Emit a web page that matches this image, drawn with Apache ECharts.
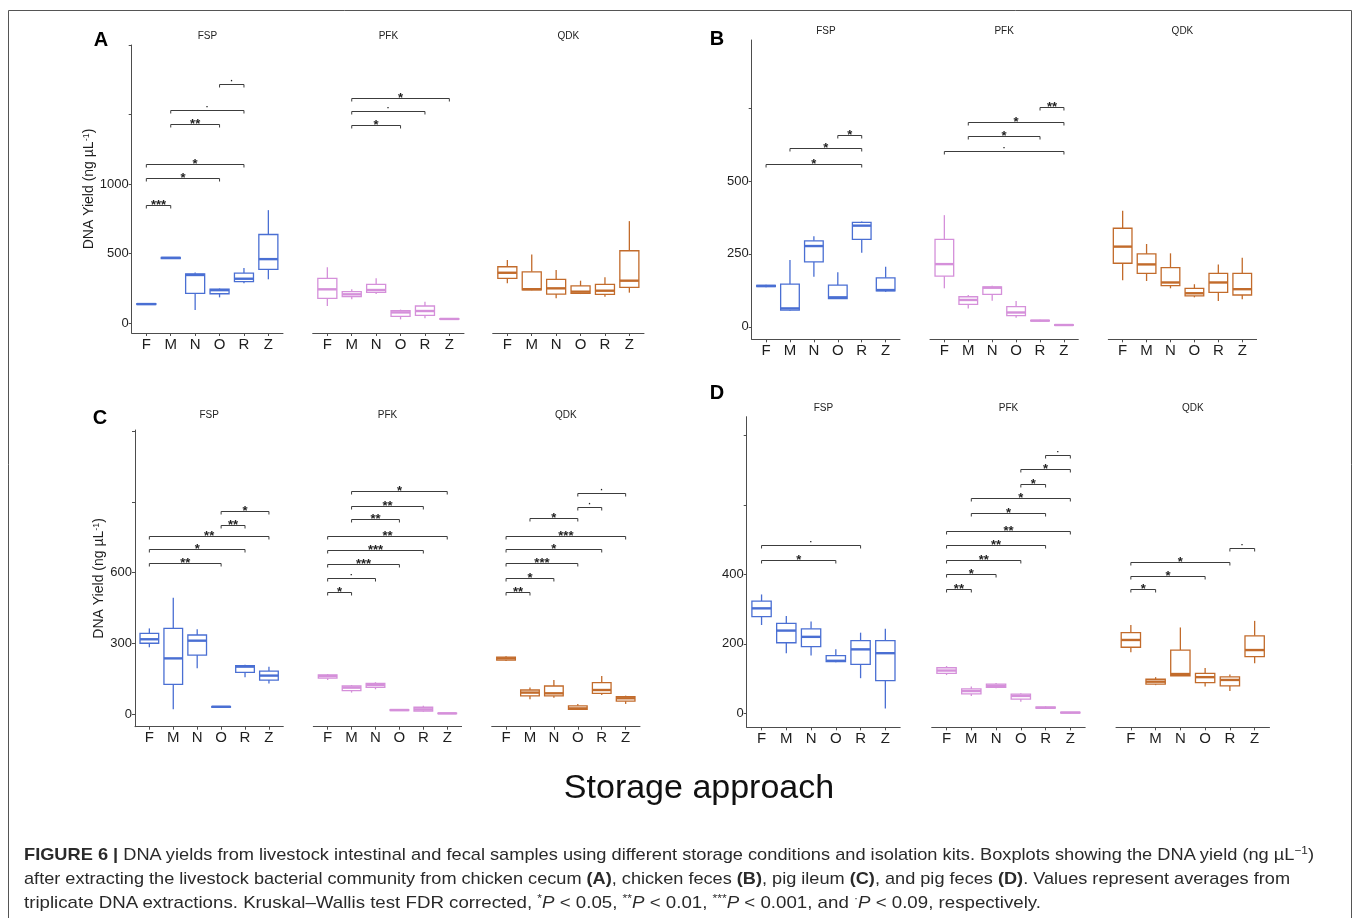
<!DOCTYPE html>
<html>
<head>
<meta charset="utf-8">
<title>Figure 6 - DNA yields</title>
<script src="https://cdn.jsdelivr.net/npm/echarts@6.0.0/dist/echarts.min.js"></script>
<style>
  html, body { margin: 0; padding: 0; background: #fff; }
  #chart { width: 1358px; height: 918px; }
  #caption { position: absolute; left: 0; top: 0; }
  .cl {
    position: absolute; left: 24px; white-space: nowrap;
    font-family: "Liberation Sans Narrow", "Liberation Sans", Arial, sans-serif;
    font-size: 17px; line-height: 20px; color: #2a2a2a;
    transform-origin: 0 50%;
  }
  .cl sup { font-size: 11px; line-height: 0; vertical-align: 6px; }
</style>
</head>
<body>
<div id="chart"></div>
<div id="caption">
  <div class="cl" data-w="1290" style="top:845px"><b>FIGURE 6 |</b> DNA yields from livestock intestinal and fecal samples using different storage conditions and isolation kits. Boxplots showing the DNA yield (ng µL<sup>−1</sup>)</div>
  <div class="cl" data-w="1266" style="top:869px">after extracting the livestock bacterial community from chicken cecum <b>(A)</b>, chicken feces <b>(B)</b>, pig ileum <b>(C)</b>, and pig feces <b>(D)</b>. Values represent averages from</div>
  <div class="cl" data-w="1017" style="top:893px">triplicate DNA extractions. Kruskal–Wallis test FDR corrected, <sup>*</sup><i>P</i> &lt; 0.05, <sup>**</sup><i>P</i> &lt; 0.01, <sup>***</sup><i>P</i> &lt; 0.001, and <sup>·</sup><i>P</i> &lt; 0.09, respectively.</div>
</div>
<script>
// storage approaches (x categories) and isolation kits (facets)
const categories = ['F', 'M', 'N', 'O', 'R', 'Z'];
const kits = ['FSP', 'PFK', 'QDK'];

// box stats per storage approach: [min, q1, median, q3, max]
// A: chicken cecum
const aFSP = [[132,135,138,141,143],[462,465,470,473,476],[95,215,347,355,365],[186,212,238,245,250],[287,299,320,360,398],[316,387,461,638,813]];
const aPFK = [[124,179,244,323,402],[172,191,208,227,244],[210,222,239,280,323],[28,50,78,90,98],[36,57,88,124,155],[26,29,31,33,35]];
const aQDK = [[287,323,363,406,454],[238,240,245,370,495],[179,210,251,316,382],[210,215,227,268,306],[191,208,234,280,330],[220,258,306,521,734]];
// B: chicken feces
const bFSP = [[136,138,140,142,144],[54,57,63,146,229],[172,223,277,295,311],[95,97,101,143,187],[254,300,347,358,361],[120,123,126,168,206]];
const bPFK = [[132,174,215,300,383],[63,77,92,103,109],[89,111,134,137,141],[31,38,49,69,88],[18,20,21,22,24],[4,5,6,7,8]];
const bQDK = [[160,218,275,338,398],[157,183,214,250,284],[132,141,152,203,252],[101,106,115,132,146],[88,118,152,183,214],[94,109,129,183,237]];
// C: pig ileum
const cFSP = [[284,301,318,343,364],[21,127,237,364,494],[195,251,312,336,360],[28,30,32,33,35],[157,178,202,206,210],[131,145,164,183,202]];
const cPFK = [[145,153,162,167,171],[92,100,113,120,124],[106,114,124,131,136],[14,16,18,20,22],[11,14,21,30,36],[2,3,4,5,6]];
const cQDK = [[226,230,237,242,246],[64,78,92,103,114],[70,78,89,120,145],[18,21,25,36,44],[82,89,103,134,162],[44,56,68,75,79]];
// D: pig feces
const dFSP = [[254,278,302,323,342],[173,203,238,259,280],[166,192,220,243,264],[147,149,151,166,184],[101,141,184,209,232],[14,94,173,209,243]];
const dPFK = [[110,115,123,131,136],[50,56,64,70,77],[72,75,79,84,87],[33,41,50,55,58],[13,15,16,18,20],[0,1,2,3,4]];
const dQDK = [[176,190,211,232,254],[81,84,91,98,104],[108,108,113,182,247],[77,88,104,115,130],[64,79,96,105,112],[144,163,182,223,266]];

// significance brackets: [from category, to category, height, label]
const sigAFSP = [[1,2,849,'***'],[1,4,1047,'*'],[1,5,1143,'*'],[2,4,1430,'**'],[2,5,1530,'·'],[4,5,1717,'·']];
const sigAPFK = [[2,4,1422,'*'],[2,5,1525,'·'],[2,6,1618,'*']];
const sigAQDK = [];
const sigBFSP = [[1,5,558,'*'],[2,5,612,'*'],[4,5,658,'*']];
const sigBPFK = [[1,6,604,'·'],[2,5,656,'*'],[2,6,704,'*'],[5,6,753,'**']];
const sigBQDK = [];
const sigCFSP = [[1,4,640,'**'],[1,5,699,'*'],[1,6,757,'**'],[4,5,802,'**'],[4,6,863,'*']];
const sigCPFK = [[1,2,519,'*'],[1,3,576,'·'],[1,4,637,'***'],[1,5,696,'***'],[1,6,757,'**'],[2,4,826,'**'],[2,5,883,'**'],[2,6,947,'*']];
const sigCQDK = [[1,2,519,'**'],[1,3,579,'*'],[1,4,640,'***'],[1,5,699,'*'],[1,6,757,'***'],[2,4,833,'*'],[4,5,880,'·'],[4,6,939,'·']];
const sigDFSP = [[1,4,441,'*'],[1,5,484,'·']];
const sigDPFK = [[1,2,357,'**'],[1,3,400,'*'],[1,4,441,'**'],[1,5,484,'**'],[1,6,525,'**'],[2,5,576,'*'],[2,6,619,'*'],[4,5,659,'*'],[4,6,702,'*'],[5,6,743,'·']];
const sigDQDK = [[1,2,357,'*'],[1,4,396,'*'],[1,5,436,'*'],[5,6,477,'·']];

// y axis ticks and labelled ticks
const yTicksA = [0, 500, 1000, 1500, 2000];
const yLabelsA = [0, 500, 1000];
const yTicksB = [0, 250, 500, 750];
const yLabelsB = [0, 250, 500];
const yTicksC = [0, 300, 600, 900, 1200];
const yLabelsC = [0, 300, 600];
const yTicksD = [0, 200, 400, 600, 800];
const yLabelsD = [0, 200, 400];

const kitColors = ['#4a6fd3', '#d590da', '#c26b2b'];
const FONT = '"Liberation Sans", Arial, sans-serif';
const catPos = [1, 2, 3, 4, 5, 6];

// layout of the four panels (pixels)
const panels = [
  { letter: 'A', letterPos: [101, 40], top: 45, bottom: 333, lefts: [131.7, 312.7, 492.7], width: 151.3, titleY: 36,
    yMin: -70, yMax: 2000, ticks: yTicksA, labels: yLabelsA, yName: true,
    boxes: [aFSP, aPFK, aQDK], sigs: [sigAFSP, sigAPFK, sigAQDK] },
  { letter: 'B', letterPos: [717, 39], top: 40, bottom: 339.3, lefts: [751.7, 930, 1108.3], width: 148.3, titleY: 31,
    yMin: -43, yMax: 984, ticks: yTicksB, labels: yLabelsB, yName: false,
    boxes: [bFSP, bPFK, bQDK], sigs: [sigBFSP, sigBPFK, sigBQDK] },
  { letter: 'C', letterPos: [100, 418], top: 430, bottom: 726.7, lefts: [135, 313.3, 491.7], width: 148.3, titleY: 415,
    yMin: -52.5, yMax: 1204.7, ticks: yTicksC, labels: yLabelsC, yName: true,
    boxes: [cFSP, cPFK, cQDK], sigs: [sigCFSP, sigCPFK, sigCQDK] },
  { letter: 'D', letterPos: [717, 393], top: 416.7, bottom: 727.3, lefts: [746.7, 931.7, 1116], width: 153.5, titleY: 408,
    yMin: -40.3, yMax: 853.5, ticks: yTicksD, labels: yLabelsD, yName: false,
    boxes: [dFSP, dPFK, dQDK], sigs: [sigDFSP, sigDPFK, sigDQDK] }
];

function boxRenderer(color) {
  return function (params, api) {
    const x = api.value(0);
    const p = [1, 2, 3, 4, 5].map(i => api.coord([x, api.value(i)]));
    const half = api.size([1, 0])[0] * 0.39;
    const cx = p[0][0];
    const lw = 1.3;
    return {
      type: 'group',
      children: [
        { type: 'line', shape: { x1: cx, y1: p[3][1], x2: cx, y2: p[4][1] }, style: { stroke: color, lineWidth: lw } },
        { type: 'line', shape: { x1: cx, y1: p[1][1], x2: cx, y2: p[0][1] }, style: { stroke: color, lineWidth: lw } },
        { type: 'rect', shape: { x: cx - half, y: p[3][1], width: 2 * half, height: p[1][1] - p[3][1] },
          style: { fill: '#fff', stroke: color, lineWidth: lw } },
        { type: 'line', shape: { x1: cx - half, y1: p[2][1], x2: cx + half, y2: p[2][1] },
          style: { stroke: color, lineWidth: 2.4 } }
      ]
    };
  };
}

function bracketRenderer(list) {
  return function (params, api) {
    const a = api.coord([api.value(0), api.value(2)]);
    const b = api.coord([api.value(1), api.value(2)]);
    const lab = list[params.dataIndex][3];
    const y = Math.round(a[1]) + 0.5;
    const dot = lab === '·';
    return {
      type: 'group',
      children: [
        { type: 'polyline', shape: { points: [[a[0], y + 3], [a[0], y], [b[0], y], [b[0], y + 3]] },
          style: { stroke: '#3c3c3c', fill: null, lineWidth: 1 } },
        { type: 'text', style: {
            text: lab, x: (a[0] + b[0]) / 2, y: dot ? y - 2.5 : y,
            align: 'center', verticalAlign: 'middle', textAlign: 'center', textVerticalAlign: 'middle',
            fontSize: dot ? 9 : 13, fontWeight: 'bold', fontFamily: FONT, fill: '#222' } }
      ]
    };
  };
}

const grid = [], xAxis = [], yAxis = [], series = [], graphic = [];

graphic.push({ type: 'rect', shape: { x: 8.5, y: 10.5, width: 1343, height: 930 },
  style: { fill: null, stroke: '#555', lineWidth: 1 }, silent: true });

panels.forEach(pn => {
  graphic.push({ type: 'text', x: pn.letterPos[0], y: pn.letterPos[1],
    style: { text: pn.letter, fontSize: 20, fontWeight: 'bold', fontFamily: FONT, fill: '#000',
      align: 'center', verticalAlign: 'middle', textAlign: 'center', textVerticalAlign: 'middle' } });
  kits.forEach((kit, k) => {
    const g = grid.length;
    grid.push({ left: pn.lefts[k], top: pn.top, width: pn.width, height: pn.bottom - pn.top, containLabel: false });
    graphic.push({ type: 'text', x: pn.lefts[k] + pn.width / 2, y: pn.titleY,
      style: { text: kit, fontSize: 10, fontFamily: FONT, fill: '#222',
        align: 'center', verticalAlign: 'middle', textAlign: 'center', textVerticalAlign: 'middle' } });
    xAxis.push({
      gridIndex: g, type: 'value', min: 0.4, max: 6.6,
      axisLine: { show: true, onZero: false, lineStyle: { color: '#4d4d4d', width: 1 } },
      axisTick: { show: true, customValues: catPos, length: 3, lineStyle: { color: '#4d4d4d' } },
      axisLabel: { show: true, customValues: catPos, formatter: v => categories[Math.round(v) - 1],
        fontSize: 15, color: '#1e1e1e', fontFamily: FONT, margin: 4 },
      splitLine: { show: false }
    });
    const ya = {
      gridIndex: g, type: 'value', min: pn.yMin, max: pn.yMax, show: k === 0,
      axisLine: { show: true, onZero: false, lineStyle: { color: '#4d4d4d', width: 1 } },
      axisTick: { show: true, customValues: pn.ticks, length: 3, lineStyle: { color: '#4d4d4d' } },
      axisLabel: { show: true, customValues: pn.labels, formatter: v => String(Math.round(v)),
        fontSize: 13, color: '#1e1e1e', fontFamily: FONT, margin: 3 },
      splitLine: { show: false }
    };
    if (k === 0 && pn.yName) {
      ya.name = '{a|DNA Yield (ng µL}{s|-1}{a|)}';
      ya.nameLocation = 'middle';
      ya.nameGap = 28;
      ya.nameTextStyle = { fontSize: 14, rich: {
        a: { fontSize: 14, color: '#1e1e1e', fontFamily: FONT },
        s: { fontSize: 9, color: '#1e1e1e', fontFamily: FONT, verticalAlign: 'top' } } };
    }
    yAxis.push(ya);
    series.push({
      type: 'custom', xAxisIndex: g, yAxisIndex: g,
      data: pn.boxes[k].map((s, i) => [i + 1].concat(s)),
      encode: { x: 0, y: [1, 2, 3, 4, 5] },
      renderItem: boxRenderer(kitColors[k])
    });
    if (pn.sigs[k].length) {
      series.push({
        type: 'custom', xAxisIndex: g, yAxisIndex: g,
        data: pn.sigs[k].map(s => [s[0], s[1], s[2]]),
        encode: { x: [0, 1], y: 2 },
        renderItem: bracketRenderer(pn.sigs[k])
      });
    }
  });
});

graphic.push({ type: 'text', x: 699, y: 789,
  style: { text: 'Storage approach', fontSize: 34, fontFamily: FONT, fill: '#111',
    align: 'center', verticalAlign: 'middle', textAlign: 'center', textVerticalAlign: 'middle' } });

const chart = echarts.init(document.getElementById('chart'), null, { renderer: 'canvas' });
chart.setOption({
  animation: false,
  backgroundColor: '#fff',
  grid: grid,
  xAxis: xAxis,
  yAxis: yAxis,
  series: series,
  graphic: graphic
});

// stretch each caption line to its width in the figure
document.querySelectorAll('.cl').forEach(el => {
  const w = el.getBoundingClientRect().width;
  el.style.transform = 'scaleX(' + (parseFloat(el.dataset.w) / w) + ')';
});
</script>
</body>
</html>
